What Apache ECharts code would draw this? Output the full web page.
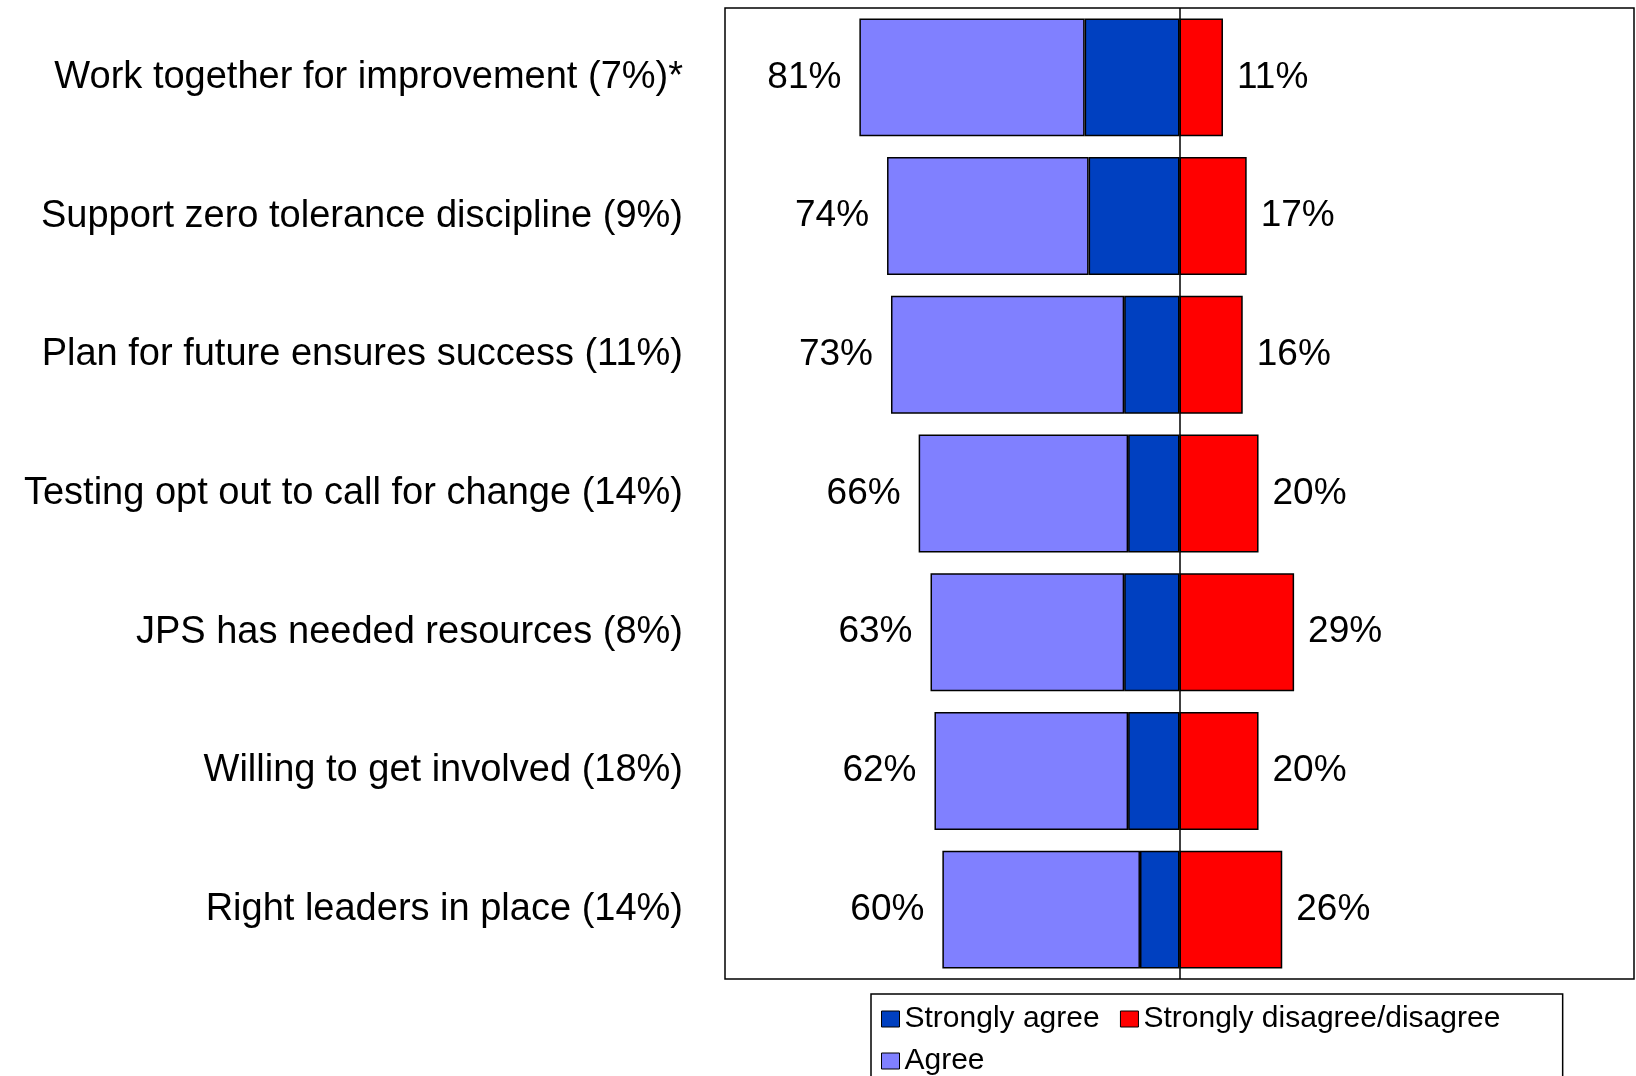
<!DOCTYPE html>
<html>
<head>
<meta charset="utf-8">
<script src="https://cdn.jsdelivr.net/npm/echarts@6/dist/echarts.min.js"></script>
<style>
    html, body {
        margin: 0;
        padding: 0;
        background: #fff;
    }
    #chart {
        width: 1636px;
        height: 1076px;
    }
</style>
</head>
<body>
<div id="chart"></div>
<script>
const categories = [
    'Work together for improvement (7%)*',
    'Support zero tolerance discipline (9%)',
    'Plan for future ensures success (11%)',
    'Testing opt out to call for change (14%)',
    'JPS has needed resources (8%)',
    'Willing to get involved (18%)',
    'Right leaders in place (14%)',
]
const stronglyAgree = [24, 23, 14, 13, 14, 13, 10]
const agree = [57, 51, 59, 53, 49, 49, 50]
const disagree = [11, 17, 16, 20, 29, 20, 26]

const font = '"Liberation Sans", Arial, sans-serif'
const border = { borderColor: '#000', borderWidth: 1.5 }

const chart = echarts.init(document.getElementById('chart'))

const option = {
    animation: false,
    backgroundColor: '#fff',
    grid: {
        left: 725,
        top: 8,
        right: 2,
        bottom: 97,
        show: true,
        borderColor: '#000',
        borderWidth: 1.5,
    },
    legend: {
        data: ['Strongly agree', 'Strongly disagree/disagree', 'Agree'],
        left: 871,
        top: 994,
        width: 664,
        padding: [10, 54, 40, 10],
        icon: 'rect',
        itemWidth: 18,
        itemHeight: 16,
        itemGap: 12,
        borderColor: '#000',
        borderWidth: 1.5,
        itemStyle: { borderColor: '#000', borderWidth: 1 },
        formatter: (name) => name + ' ',
        textStyle: {
            fontFamily: font,
            fontSize: 30,
            color: '#000',
        },
    },
    xAxis: {
        type: 'value',
        min: -115,
        max: 115,
        show: false,
    },
    yAxis: {
        type: 'category',
        data: categories,
        inverse: true,
        axisLine: { show: false, onZero: false },
        axisTick: { show: false },
        axisLabel: {
            margin: 42,
            fontFamily: font,
            fontSize: 38,
            color: '#000',
        },
    },
    series: [
        {
            name: 'Strongly agree',
            type: 'bar',
            stack: 'all',
            barCategoryGap: '15%',
            data: stronglyAgree.map((v) => -v),
            itemStyle: { color: '#0040C0', ...border },
        },
        {
            name: 'Agree',
            type: 'bar',
            stack: 'all',
            data: agree.map((v) => -v),
            itemStyle: { color: '#8080FF', ...border },
            label: {
                show: true,
                position: 'left',
                distance: 18,
                fontFamily: font,
                fontSize: 37,
                color: '#000',
                formatter: (p) => agree[p.dataIndex] + stronglyAgree[p.dataIndex] + '%',
            },
        },
        {
            name: 'Strongly disagree/disagree',
            type: 'bar',
            stack: 'all',
            data: disagree,
            itemStyle: { color: '#FF0000', ...border },
            label: {
                show: true,
                position: 'right',
                distance: 14,
                fontFamily: font,
                fontSize: 37,
                color: '#000',
                formatter: (p) => p.value + '%',
            },
            markLine: {
                silent: true,
                symbol: 'none',
                label: { show: false },
                lineStyle: { color: '#000', width: 1.5, type: 'solid' },
                data: [{ xAxis: 0 }],
            },
        },
    ],
}

chart.setOption(option)
</script>
</body>
</html>
